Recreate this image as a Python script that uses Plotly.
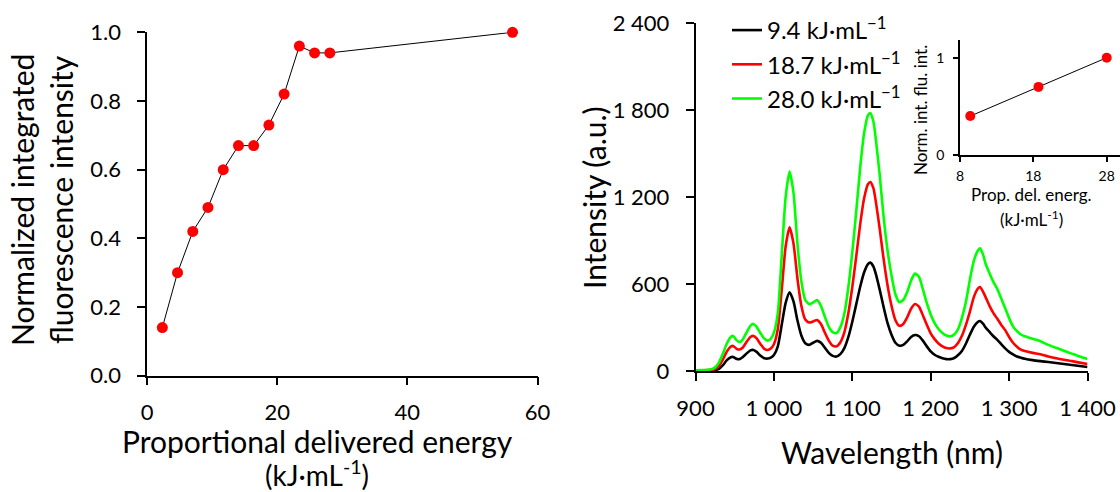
import plotly.graph_objects as go

# ---------------- data ----------------
energy = [2.34, 4.68, 7.02, 9.36, 11.7, 14.04, 16.38, 18.72, 21.06, 23.4, 25.74, 28.08, 56.16]
norm_int = [0.14, 0.30, 0.42, 0.49, 0.60, 0.67, 0.67, 0.73, 0.82, 0.96, 0.94, 0.94, 1.00]

wavelength = [900, 910, 920, 925, 930, 935, 940, 945, 948, 952, 956, 960, 965, 970, 974, 978,
              983, 988, 992, 996, 1000, 1005, 1010, 1015, 1020, 1025, 1030, 1035, 1040, 1045,
              1050, 1055, 1060, 1065, 1070, 1075, 1080, 1085, 1090, 1095, 1100, 1105, 1110,
              1115, 1120, 1123, 1127, 1130, 1135, 1140, 1145, 1150, 1155, 1160, 1165, 1170,
              1175, 1180, 1185, 1190, 1195, 1200, 1205, 1210, 1215, 1220, 1225, 1230, 1235,
              1240, 1245, 1250, 1255, 1260, 1263, 1267, 1270, 1275, 1280, 1285, 1290, 1295,
              1300, 1305, 1310, 1315, 1320, 1330, 1340, 1350, 1360, 1370, 1380, 1390, 1400]

int_28_0 = [5, 6, 12, 25, 60, 120, 190, 235, 242, 215, 200, 215, 265, 312, 325, 305,
            260, 222, 210, 222, 265, 400, 800, 1200, 1376, 1230, 880, 620, 490, 462,
            472, 490, 450, 375, 305, 268, 262, 305, 400, 580, 820, 1100, 1400,
            1640, 1765, 1780, 1720, 1600, 1350, 1060, 830, 660, 530, 475, 490, 545,
            625, 672, 650, 565, 470, 390, 330, 290, 262, 245, 240, 252, 290,
            370, 480, 630, 760, 830, 847, 800, 740, 675, 615, 565, 500, 433,
            365, 308, 275, 252, 240, 222, 205, 180, 160, 140, 120, 100, 83]

int_18_7 = [4, 5, 8, 14, 35, 80, 135, 168, 173, 155, 148, 160, 200, 235, 242, 225,
            185, 152, 145, 155, 185, 290, 560, 860, 992, 880, 640, 450, 355, 335,
            342, 352, 325, 265, 210, 175, 170, 200, 270, 400, 580, 790, 1010,
            1190, 1290, 1305, 1260, 1170, 980, 770, 590, 450, 350, 312, 325, 370,
            430, 462, 445, 385, 320, 260, 220, 190, 170, 158, 156, 165, 195,
            245, 320, 410, 510, 568, 580, 545, 510, 450, 400, 360, 318, 282,
            235, 195, 168, 148, 138, 125, 115, 100, 88, 77, 68, 58, 48]

int_9_4 = [3, 3, 5, 7, 15, 40, 75, 95, 97, 85, 82, 95, 120, 142, 145, 132,
           105, 88, 86, 92, 110, 170, 320, 470, 543, 480, 350, 245, 192, 180,
           195, 208, 195, 160, 125, 104, 100, 118, 160, 235, 340, 460, 580,
           680, 738, 748, 720, 670, 560, 440, 330, 250, 195, 175, 180, 205,
           235, 248, 240, 210, 170, 135, 112, 98, 88, 82, 82, 90, 110,
           140, 190, 250, 305, 338, 345, 325, 300, 270, 240, 215, 185, 156,
           132, 115, 100, 92, 85, 75, 68, 62, 55, 48, 42, 35, 28]

inset_energy = [9.4, 18.7, 28.0]
inset_norm = [0.40, 0.70, 1.00]

left_xticks = [0, 20, 40, 60]
left_yticks = [0.0, 0.2, 0.4, 0.6, 0.8, 1.0]
spec_xticks = [900, 1000, 1100, 1200, 1300, 1400]
spec_xticktext = ["900", "1 000", "1 100", "1 200", "1 300", "1 400"]
spec_yticks = [0, 600, 1200, 1800, 2400]
spec_yticktext = ["0", "600", "1 200", "1 800", "2 400"]
inset_xticks = [8, 18, 28]
inset_yticks = [0, 1]

legend_names = ["9.4 kJ·mL<sup>−1</sup>", "18.7 kJ·mL<sup>−1</sup>", "28.0 kJ·mL<sup>−1</sup>"]
series_colors = ["#000000", "#ff0000", "#00ff00"]

# ---------------- layout helpers ----------------
W, H = 1120, 492
FONT = "Lato"


def xd(a, b):
    return [a / W, b / W]


def yd(top, bottom):
    return [1 - bottom / H, 1 - top / H]


fig = go.Figure()

# left chart
fig.add_trace(go.Scatter(
    x=energy, y=norm_int, mode="lines+markers",
    line=dict(color="black", width=1),
    marker=dict(color="#ff0000", size=11),
    xaxis="x", yaxis="y", showlegend=False, cliponaxis=False))

# spectra
for ys, name, col in zip([int_9_4, int_18_7, int_28_0], legend_names, series_colors):
    fig.add_trace(go.Scatter(
        x=wavelength, y=ys, mode="lines", name=name,
        line=dict(color=col, width=2.6, shape="spline", smoothing=0.6),
        xaxis="x2", yaxis="y2"))

# inset
fig.add_trace(go.Scatter(
    x=inset_energy, y=inset_norm, mode="lines+markers",
    line=dict(color="black", width=1),
    marker=dict(color="#ff0000", size=10),
    xaxis="x3", yaxis="y3", showlegend=False, cliponaxis=False))

axis_common = dict(showline=True, linecolor="black", linewidth=1.5, ticks="outside",
                   tickcolor="black", tickwidth=1.5, showgrid=False, zeroline=False,
                   mirror=False, automargin=False)

fig.update_layout(
    width=W, height=H,
    margin=dict(l=0, r=0, t=0, b=0, autoexpand=False),
    paper_bgcolor="white", plot_bgcolor="white",
    font=dict(family=FONT, color="black"),
    xaxis=dict(domain=xd(147.1, 537.5), range=[0, 60], tickvals=left_xticks,
               ticklen=8, tickfont=dict(size=22), ticklabelstandoff=8, anchor="y",
               **axis_common),
    yaxis=dict(domain=yd(32.3, 375.7), range=[0, 1.0], tickvals=left_yticks,
               tickformat=".1f", ticklen=8, tickfont=dict(size=22), ticklabelstandoff=12,
               anchor="x", **axis_common),
    xaxis2=dict(domain=xd(695.5, 1087.5), range=[900, 1400], tickvals=spec_xticks,
                ticktext=spec_xticktext, ticklen=8, tickfont=dict(size=22),
                ticklabelstandoff=9, anchor="y2", **axis_common),
    yaxis2=dict(domain=yd(23.3, 371), range=[0, 2400], tickvals=spec_yticks,
                ticktext=spec_yticktext, ticklen=8, tickfont=dict(size=22),
                ticklabelstandoff=12, anchor="x2", **axis_common),
    xaxis3=dict(domain=xd(960, 1120), range=[8, 29.81], tickvals=inset_xticks,
                ticklen=5, tickfont=dict(size=14), ticklabelstandoff=2, anchor="y3",
                **axis_common),
    yaxis3=dict(domain=yd(40, 155), range=[0, 1.182], tickvals=inset_yticks,
                ticklen=5, tickfont=dict(size=14), ticklabelstandoff=6, anchor="x3",
                **axis_common),
    legend=dict(x=727 / W, y=1 - 8 / H, xanchor="left", yanchor="top",
                font=dict(size=24), bgcolor="rgba(0,0,0,0)", tracegroupgap=0),
)

ann = []
ann.append(dict(text="Normalized integrated<br>fluorescence intensity", x=41 / W, y=1 - 200 / H,
                textangle=-90, font=dict(size=30)))
ann.append(dict(text="Proportional delivered energy", x=317 / W, y=1 - 441 / H,
                font=dict(size=30)))
ann.append(dict(text="(kJ·mL<sup>-1</sup>)", x=317 / W, y=1 - 473 / H, font=dict(size=28)))
ann.append(dict(text="Intensity (a.u.)", x=594 / W, y=1 - 198 / H, textangle=-90,
                font=dict(size=30)))
ann.append(dict(text="Wavelength (nm)", x=891.5 / W, y=1 - 452 / H, font=dict(size=30)))
ann.append(dict(text="Norm. int. flu. int.", x=920 / W, y=1 - 110 / H, textangle=-90,
                font=dict(size=17)))
ann.append(dict(text="Prop. del. energ.", x=1031 / W, y=1 - 194 / H, font=dict(size=17)))
ann.append(dict(text="(kJ·mL<sup>-1</sup>)", x=1031 / W, y=1 - 218 / H, font=dict(size=17)))
for a in ann:
    a.update(xref="paper", yref="paper", showarrow=False, xanchor="center", yanchor="middle")
fig.update_layout(annotations=ann)

fig.write_html("out.html")
